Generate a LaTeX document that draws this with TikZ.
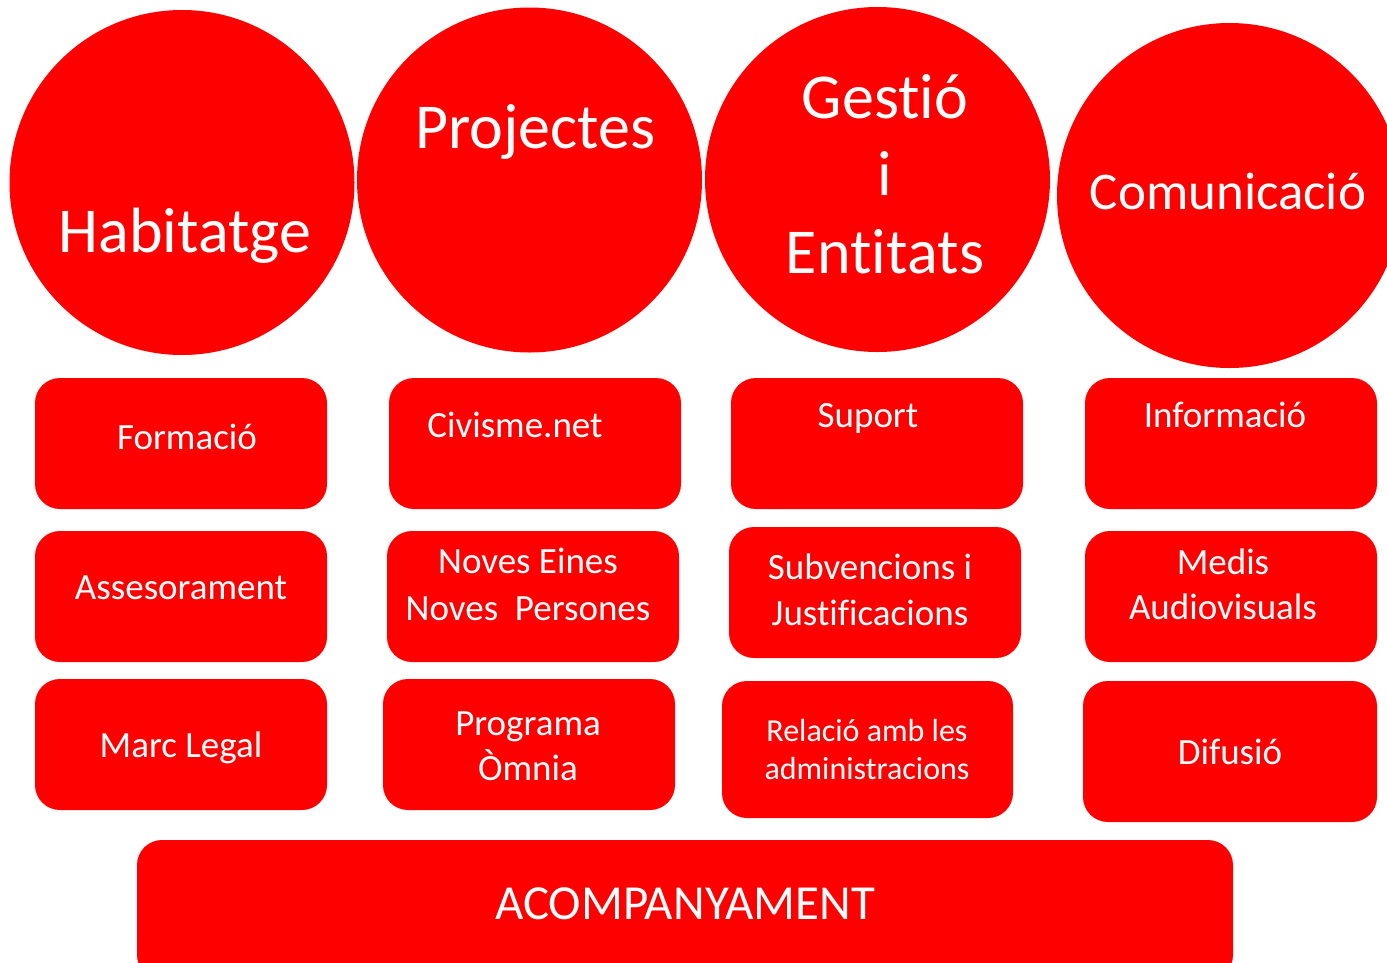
\documentclass[tikz,border=0pt]{standalone}
\usepackage{fontspec}
\setmainfont[Ligatures={NoCommon}]{Carlito}
\definecolor{rd}{RGB}{254,0,0}
\newcommand{\nl}{\kern0pt }
\begin{document}
\begin{tikzpicture}[x=1pt,y=-1pt,
  bigc/.style={circle,fill=rd,draw=none,minimum size=345pt,inner sep=0pt},
  box/.style={rectangle,rounded corners=25pt,fill=rd,draw=none,inner sep=0pt},
  ct/.style={text=white,inner sep=0pt,anchor=base,font=\fontsize{64}{64}\selectfont},
  cts/.style={ct,font=\fontsize{53}{53}\selectfont},
  bt/.style={text=white,inner sep=0pt,anchor=base,font=\fontsize{37}{45}\selectfont},
  bts/.style={bt,font=\fontsize{32}{38}\selectfont},
  bbt/.style={bt,font=\fontsize{49}{49}\selectfont}]
\useasboundingbox (0,0) rectangle (1387,962);
\clip (0,0) rectangle (1387,962);
% circles
\node[bigc] (c1) at (182,182.5) {};
\node[bigc] (c2) at (529.5,180) {};
\node[bigc] (c3) at (877.5,179.5) {};
\node[bigc] (c4) at (1229.5,195.5) {};
\node[ct] (t1) at (185,252) {Habitatge};
\node[ct] (t2) at (535,148) {Projectes};
\node[ct] (t3a) at (885,118) {Gestió};
\node[ct] (t3b) at (885,195) {i};
\node[ct] (t3c) at (885,273) {Ent\nl it\nl ats};
\node[cts] (t4) at (1228,209) {Comunicació};
% column 1
\node[box,minimum width=292pt,minimum height=131pt] (b11) at (181,443.5) {};
\node[box,minimum width=292pt,minimum height=131pt] (b12) at (181,596.5) {};
\node[box,minimum width=292pt,minimum height=131pt] (b13) at (181,744.5) {};
% column 2
\node[box,minimum width=292pt,minimum height=131pt] (b21) at (535,443.5) {};
\node[box,minimum width=292pt,minimum height=131pt] (b22) at (533,596.5) {};
\node[box,minimum width=292pt,minimum height=131pt] (b23) at (529,744.5) {};
% column 3
\node[box,minimum width=292pt,minimum height=131pt] (b31) at (877,443.5) {};
\node[box,minimum width=292pt,minimum height=131pt] (b32) at (875,592.5) {};
\node[box,minimum width=291pt,minimum height=137pt] (b33) at (867.5,749.5) {};
% column 4
\node[box,minimum width=292pt,minimum height=131pt] (b41) at (1231,443.5) {};
\node[box,minimum width=292pt,minimum height=131pt] (b42) at (1231,596.5) {};
\node[box,minimum width=294pt,minimum height=141pt] (b43) at (1230,751.5) {};
% bottom
\node[box,minimum width=1096pt,minimum height=140pt] (bb) at (685,910) {};
% box texts
\node[bt] (x11) at (187,449) {Formació};
\node[bt] (x12) at (181,599) {Assesorament};
\node[bt] (x13) at (181,757) {Marc Legal};
\node[bt] (x21) at (515,437) {Civisme.net};
\node[bt] (x22a) at (528,573) {Noves Eines};
\node[bt] (x22b) at (528,620) {Noves\ \ Persones};
\node[bt] (x23a) at (528,735) {Programa};
\node[bt] (x23b) at (528,780) {Òmnia};
\node[bt] (x31) at (868,427) {Suport};
\node[bt] (x32a) at (870,579) {Subvencions i};
\node[bt] (x32b) at (870,625) {Just\nl if\nl icacions};
\node[bts] (x33a) at (867,741) {Relació amb les};
\node[bts] (x33b) at (867,779) {administracions};
\node[bt] (x41) at (1225,427) {Informació};
\node[bt] (x42a) at (1223,574) {Medis};
\node[bt] (x42b) at (1223,619) {Audiovisuals};
\node[bt] (x43) at (1230,764) {Difusió};
\node[bbt] (xbb) at (685,919) {ACOMPANYAMENT};
\end{tikzpicture}
\end{document}
